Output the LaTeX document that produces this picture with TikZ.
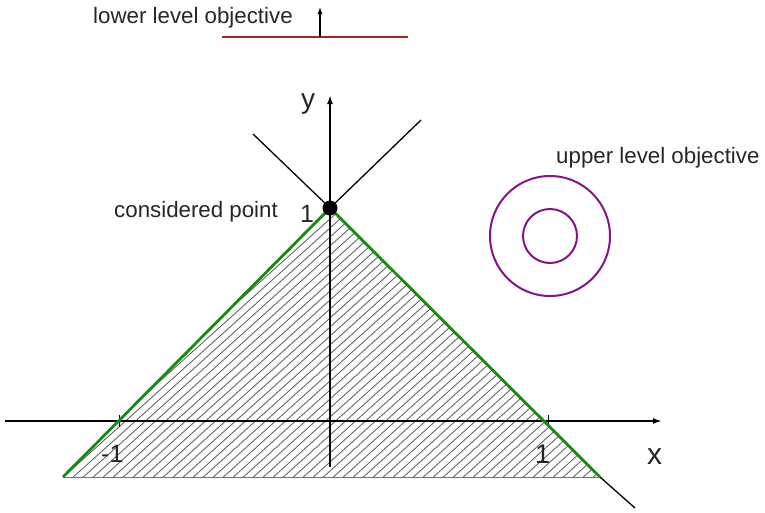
\documentclass[tikz,border=0pt]{standalone}
\usepackage{fontspec}
\setmainfont{Liberation Sans}
\usetikzlibrary{arrows.meta}
\definecolor{fgreen}{RGB}{20,140,20}
\definecolor{fpurple}{RGB}{135,20,135}
\definecolor{fred}{RGB}{170,35,35}
\begin{document}
\begin{tikzpicture}[x=1pt,y=-1pt,
  lbl/.style={inner sep=0pt,anchor=base west,text=black!85},
  legendtext/.style={lbl,font=\fontsize{22.3}{24}\selectfont},
  axisline/.style={line width=1.8pt,-{Latex[length=9pt,width=6pt]}},
  feasible/.style={line width=2.8pt,fgreen},
  hatchline/.style={line width=0.8pt,black!65},
  ring/.style={line width=2pt,fpurple}]
\useasboundingbox (0,0) rectangle (765,512);
% key points
\coordinate (P) at (330,208);
\coordinate (L) at (63,477);
\coordinate (R) at (600,477);
\coordinate (xs) at (5,421);
\coordinate (xe) at (662,421);
\coordinate (ys) at (330,467);
\coordinate (ye) at (330,95);
\coordinate (ul) at (253,134);
\coordinate (ur) at (421,120);
\coordinate (lr) at (635,508);
% hatching
\begin{scope}
\clip (L) -- (P) -- (R) -- cycle;
\foreach \c in {-350,-340,...,700} {
  \draw[hatchline] (\c,480) -- (\c+350,165);
}
\end{scope}
\draw[line width=0.8pt,black!55] (L) -- (R);
% axes
\draw[axisline] (xs) -- (xe);
\draw[axisline] (ys) -- (ye);
\draw[line width=1pt] (119,415) -- (119,427);
\draw[line width=1pt] (548,415) -- (548,427);
% lower level lines
\draw[line width=1.3pt] (ul) -- (P) -- (ur);
\draw[line width=1.3pt] (R) -- (lr);
% feasible boundary
\draw[feasible] (L) -- (P) -- (R);
% point
\fill (P) circle (7.5);
% labels
\node[lbl,font=\fontsize{28}{30}\selectfont] (ylab) at (301,108) {y};
\node[lbl,font=\fontsize{30}{32}\selectfont] (xlab) at (647,464) {x};
\node[lbl,font=\fontsize{25}{27}\selectfont] (one) at (300,222) {1};
\node[lbl,font=\fontsize{25}{27}\selectfont] (mone) at (101,462) {-1};
\node[lbl,font=\fontsize{27}{29}\selectfont] (onex) at (535,463) {1};
\node[legendtext] (cp) at (114,217) {considered point};
\node[legendtext] (ulo) at (556,163) {upper level objective};
\node[legendtext] (llo) at (93,23) {lower level objective};
% upper level objective circles
\coordinate (C) at (550,236);
\draw[ring] (C) circle (60);
\draw[ring] (C) circle (27);
% lower level objective legend
\coordinate (rl) at (222,37);
\coordinate (rr) at (408,37);
\coordinate (ab) at (320,37);
\coordinate (at) at (320,7);
\draw[line width=1.8pt,fred] (rl) -- (rr);
\draw[line width=1.1pt,-{Latex[length=7pt,width=5pt]}] (ab) -- (at);
\end{tikzpicture}
\end{document}
